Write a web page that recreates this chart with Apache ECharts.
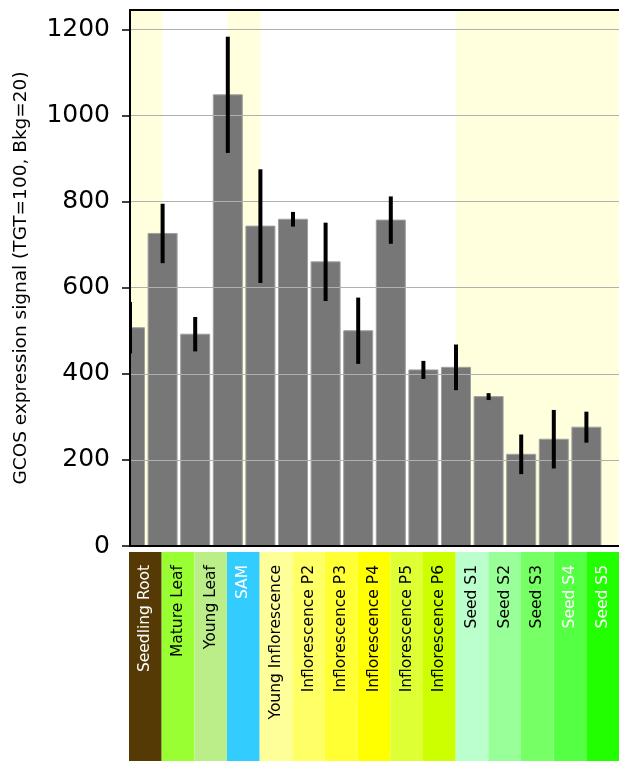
<!DOCTYPE html>
<html>
<head>
<meta charset="utf-8">
<script src="https://cdn.jsdelivr.net/npm/echarts@6/dist/echarts.min.js"></script>
<style>html,body{margin:0;padding:0;background:#fff}#c{width:619px;height:761px}</style>
</head>
<body>
<div id="c"></div>
<script>
const categories = ['Seedling Root','Mature Leaf','Young Leaf','SAM','Young Inflorescence','Inflorescence P2','Inflorescence P3','Inflorescence P4','Inflorescence P5','Inflorescence P6','Seed S1','Seed S2','Seed S3','Seed S4','Seed S5'];
const values = [507,726,492,1048,743,759,660,500,757,409,415,347,213,248,276];
const errors = [60,69,40,135,132,17,91,77,55,21,53,8,46,68,36];
const stripColors = ['#553a05','#99ff33','#bbee88','#33ccff','#ffff99','#ffff66','#ffff33','#ffff00','#ddff33','#ccff00','#bbffcc','#99ff99','#77ff66','#55ff44','#22ff00'];
const labelColors = ['#ffffff','#000000','#000000','#ffffff','#000000','#000000','#000000','#000000','#000000','#000000','#000000','#000000','#000000','#ffffff','#ffffff'];
const shadedBands = [[0,1],[3,4],[10,15]];
const yTicks = {min:0, max:1245, interval:200};

const FONT = 'DejaVu Sans';
const BAR_HALF = 0.445; // half bar width in category units
const chart = echarts.init(document.getElementById('c'), null, {renderer:'canvas'});

function clipToGrid(rect, cs){
  return echarts.graphic.clipRectByRect(rect, {x:cs.x, y:cs.y, width:cs.width, height:cs.height});
}

chart.setOption({
  backgroundColor:'#ffffff',
  animation:false,
  grid:[
    {left:130, top:10, width:494, height:536},
    {left:129, top:552, width:491, height:209}
  ],
  xAxis:[
    {gridIndex:0, type:'value', min:0, max:categories.length, position:'bottom',
     axisLine:{show:true, onZero:false, lineStyle:{color:'#000', width:2}}, axisTick:{show:false}, axisLabel:{show:false}, splitLine:{show:false}, z:6},
    {gridIndex:0, type:'value', min:0, max:categories.length, position:'top',
     axisLine:{show:true, onZero:false, lineStyle:{color:'#000', width:2}}, axisTick:{show:false}, axisLabel:{show:false}, splitLine:{show:false}, z:6},
    {gridIndex:1, type:'category', data:categories, show:false, boundaryGap:true}
  ],
  yAxis:[
    {gridIndex:0, type:'value', min:yTicks.min, max:yTicks.max, interval:yTicks.interval,
     name:'GCOS expression signal (TGT=100, Bkg=20)', nameLocation:'middle', nameGap:99,
     nameTextStyle:{fontFamily:FONT, fontSize:18.5, color:'#000'},
     axisLine:{show:true, lineStyle:{color:'#000', width:2}},
     axisTick:{show:true, length:8, lineStyle:{color:'#000', width:1.5}},
     axisLabel:{fontFamily:FONT, fontSize:25, color:'#000', margin:20, formatter:(v)=>String(v)},
     splitLine:{show:true, lineStyle:{color:'#b0b0b0', width:1}}, z:5},
    {gridIndex:1, type:'value', min:0, max:1, show:false}
  ],
  series:[
    {type:'line', xAxisIndex:0, yAxisIndex:0, data:[], z:-1, silent:true,
     markArea:{silent:true, itemStyle:{color:'#ffffdd'},
       data: shadedBands.map(b => [{xAxis:b[0]},{xAxis:b[1]}])}},
    {type:'custom', xAxisIndex:0, yAxisIndex:0, z:2,
     data: values.map((v,i)=>[i,v]),
     renderItem:(params, api)=>{
       const x = api.value(0), v = api.value(1);
       const p1 = api.coord([x - BAR_HALF, v]), p2 = api.coord([x + BAR_HALF, 0]);
       const r = clipToGrid({x:p1[0], y:p1[1], width:p2[0]-p1[0], height:p2[1]-p1[1]}, params.coordSys);
       if(!r) return null;
       return {type:'rect', shape:r, style:{fill:'#777777', stroke:'#a0a0a0', lineWidth:1}};
     }},
    {type:'custom', xAxisIndex:0, yAxisIndex:0, z:10,
     data: values.map((v,i)=>[i,v,errors[i]]),
     renderItem:(params, api)=>{
       const x = api.value(0), v = api.value(1), e = api.value(2);
       const p1 = api.coord([x, v+e]), p2 = api.coord([x, v-e]);
       const r = clipToGrid({x:p1[0]-2, y:p1[1], width:4, height:p2[1]-p1[1]}, params.coordSys);
       if(!r) return null;
       return {type:'rect', shape:r, style:{fill:'#000'}};
     }},
    {type:'bar', xAxisIndex:2, yAxisIndex:1, barWidth:'100%', barCategoryGap:0,
     data: categories.map((c,i)=>({value:1, itemStyle:{color:stripColors[i]},
       label:{color:labelColors[i]}})),
     label:{show:true, position:'insideTop', rotate:90, align:'right', verticalAlign:'middle', distance:13,
       fontFamily:FONT, fontSize:15.5, formatter:(p)=>p.name}}
  ]
});
</script>
</body>
</html>
